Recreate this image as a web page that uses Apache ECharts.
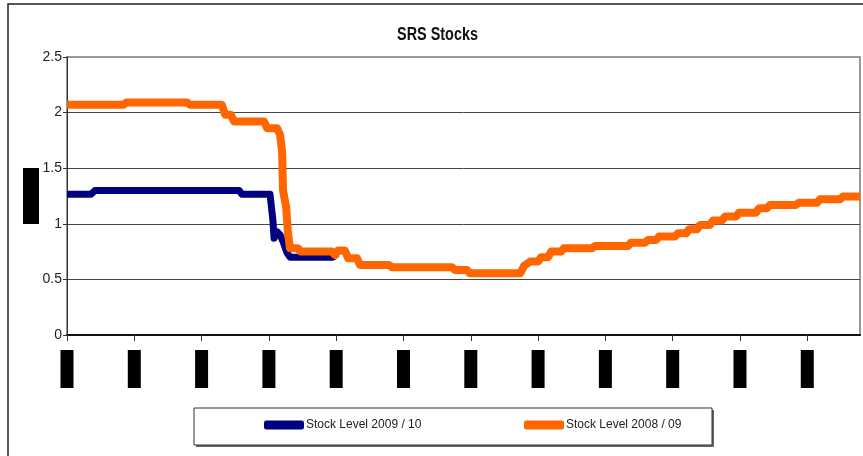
<!DOCTYPE html>
<html>
<head>
<meta charset="utf-8">
<script src="https://cdn.jsdelivr.net/npm/echarts@6/dist/echarts.min.js"></script>
<style>
  html, body { margin: 0; padding: 0; background: #fff; }
  #chart { width: 863px; height: 456px; }
</style>
</head>
<body>
<div id="chart"></div>
<script>
// tick labels (redacted in the source, drawn as black boxes)
var monthLabels = ['Apr', 'May', 'Jun', 'Jul', 'Aug', 'Sep', 'Oct', 'Nov', 'Dec', 'Jan', 'Feb', 'Mar'];
var tickDays = [0, 30, 60, 90, 120, 150, 180, 210, 240, 270, 300, 330];

// Stock Level 2009 / 10
var days0910 = [0, 10.7, 12.5, 76.7, 78, 90.5, 91.8, 92.3, 93.6, 95, 96.3, 98.1, 99.4, 118.6, 120.4];
var stock0910 = [1.265, 1.265, 1.30, 1.30, 1.265, 1.265, 1.03, 0.87, 0.93, 0.90, 0.84, 0.74, 0.70, 0.70, 0.73];

// Stock Level 2008 / 09
var days0809 = [0, 25, 26.5, 53.5, 55, 69, 70.5, 73, 74.5, 87.8, 89.2, 93.6, 95, 95.9, 96.3,
    97.7, 98.5, 99.4, 103, 104, 118, 119.5, 120.8, 123.9, 125.3, 129.3, 130.6, 143.5, 144.9, 171.6,
    172.9, 178.3, 179.6, 202, 203.7, 206.4, 210, 211.3, 214.4, 215.8, 220.2, 221.5, 234, 235.4, 250.1,
    251.4, 257.7, 259, 262.6, 263.9, 271, 272.4, 276, 277.3, 280.8, 282.2, 286.6, 288, 292, 293.3,
    298.2, 299.6, 307.1, 308.5, 312, 313.4, 325, 326.3, 334.3, 335.7, 344.6, 345.9, 353.5];
var stock0809 = [2.07, 2.07, 2.09, 2.09, 2.07, 2.07, 1.98, 1.98, 1.92, 1.92, 1.86, 1.86, 1.80, 1.64, 1.30,
    1.15, 0.92, 0.78, 0.78, 0.75, 0.75, 0.72, 0.76, 0.76, 0.69, 0.69, 0.63, 0.63, 0.61, 0.61,
    0.585, 0.585, 0.555, 0.555, 0.62, 0.66, 0.66, 0.70, 0.70, 0.75, 0.75, 0.78, 0.78, 0.80, 0.80,
    0.83, 0.83, 0.855, 0.855, 0.885, 0.885, 0.915, 0.915, 0.95, 0.95, 0.99, 0.99, 1.03, 1.03, 1.065,
    1.065, 1.10, 1.10, 1.14, 1.14, 1.17, 1.17, 1.19, 1.19, 1.22, 1.22, 1.245, 1.245];

var FONT = "'Liberation Sans', Arial, sans-serif";

function pairs(xs, ys) {
    return xs.map(function (x, i) { return [x, ys[i]]; });
}

var chart = echarts.init(document.getElementById('chart'));

chart.setOption({
    animation: false,
    backgroundColor: '#fff',
    graphic: [
        { type: 'rect', shape: { x: 8, y: 4, width: 900, height: 500 },
          style: { fill: null, stroke: '#222', lineWidth: 1.5 }, z: -1 },
        { type: 'rect', shape: { x: 196, y: 410, width: 518, height: 37 },
          style: { fill: '#666' }, z: -1 },
        { type: 'rect', shape: { x: 194, y: 408, width: 518, height: 37 },
          style: { fill: '#fff', stroke: '#333', lineWidth: 1 }, z: -1 },
        // chart title, squeezed to the narrow face of the original
        { type: 'text', x: 437.5, y: 35, scaleX: 0.8,
          style: { text: 'SRS Stocks', align: 'center', verticalAlign: 'middle',
                   font: 'bold 18px ' + FONT, fill: '#111' } }
    ],
    legend: [{
        data: ['Stock Level 2009 / 10'],
        left: 259, top: 414,
        icon: 'roundRect', itemWidth: 40, itemHeight: 9,
        textStyle: { fontFamily: FONT, fontSize: 12, color: '#222', padding: [0, 0, 0, -3] }
    }, {
        data: ['Stock Level 2008 / 09'],
        left: 519, top: 414,
        icon: 'roundRect', itemWidth: 40, itemHeight: 9,
        textStyle: { fontFamily: FONT, fontSize: 12, color: '#222', padding: [0, 0, 0, -3] }
    }],
    grid: {
        left: 67, right: 3, top: 57, bottom: 121,
        show: true, borderColor: '#999', borderWidth: 2, backgroundColor: '#fff'
    },
    xAxis: {
        type: 'value',
        min: 0,
        max: 353.5,
        axisLine: { show: true, lineStyle: { color: '#111', width: 2 } },
        axisTick: { show: true, length: 6, customValues: tickDays, lineStyle: { color: '#333' } },
        splitLine: { show: false },
        axisLabel: {
            customValues: tickDays,
            rotate: 90,
            margin: 15,
            formatter: function (v) {
                return '{b|' + monthLabels[Math.round(v / 30)] + '}';
            },
            rich: {
                b: { backgroundColor: '#000', color: '#000', width: 38, height: 13,
                     align: 'center', fontSize: 10, fontFamily: FONT }
            }
        }
    },
    yAxis: {
        type: 'value',
        min: 0,
        max: 2.5,
        interval: 0.5,
        name: '{b|Stock}',
        nameLocation: 'middle',
        nameRotate: 90,
        nameGap: 28,
        nameMoveOverlap: false,
        nameTextStyle: {
            rich: { b: { backgroundColor: '#000', color: '#000', width: 56, height: 16,
                         align: 'center', fontSize: 11, fontFamily: FONT } }
        },
        axisLine: { show: true, lineStyle: { color: '#333', width: 1 } },
        axisTick: { show: true, length: 4, lineStyle: { color: '#333' } },
        splitLine: { show: true, lineStyle: { color: ['#444', '#444', '#444', '#444', '#444', '#999'], width: 1 } },
        axisLabel: {
            margin: 5,
            fontFamily: FONT, fontSize: 14, color: '#222',
            formatter: function (v) { return String(v); }
        }
    },
    series: [{
        name: 'Stock Level 2009 / 10',
        type: 'line',
        data: pairs(days0910, stock0910),
        showSymbol: false,
        color: '#000080',
        lineStyle: { width: 7, color: '#000080', join: 'round' }
    }, {
        name: 'Stock Level 2008 / 09',
        type: 'line',
        data: pairs(days0809, stock0809),
        showSymbol: false,
        color: '#FF6600',
        lineStyle: { width: 8, color: '#FF6600', join: 'round' }
    }]
});
</script>
</body>
</html>
